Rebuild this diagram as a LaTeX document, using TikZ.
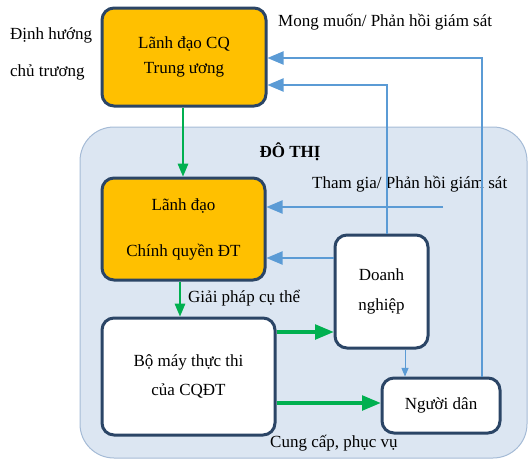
\documentclass[tikz,border=0pt]{standalone}
\usepackage{xcolor}
\usepackage{fontspec}
\setmainfont{Liberation Serif}
\usepackage{tikz}
\usetikzlibrary{arrows}
\definecolor{LeadOrange}{HTML}{FFC000}
\definecolor{BoxEdge}{HTML}{2B4566}
\definecolor{CityFill}{HTML}{DCE6F2}
\definecolor{CityEdge}{HTML}{A5BBD6}
\definecolor{FlowGreen}{HTML}{00B050}
\definecolor{FlowBlue}{HTML}{5B9BD5}
\tikzset{
  BaseNode/.style = {align=center, inner sep=4pt, text centered, font=\fontsize{17}{20}\selectfont},
  LeadNode/.style = {BaseNode, rectangle, rounded corners=12pt, fill=LeadOrange, draw=BoxEdge, line width=3pt},
  BodyNode/.style = {BaseNode, rectangle, rounded corners=12pt, fill=white, draw=BoxEdge, line width=3pt},
  CityNode/.style = {rectangle, rounded corners=34pt, fill=CityFill, draw=CityEdge, line width=1pt},
  NoteNode/.style = {BaseNode, anchor=west, inner sep=0pt},
  GreenArrow/.style = {->, draw=FlowGreen, line width=3.4pt},
  ThinGreen/.style = {->, draw=FlowGreen, line width=2pt},
  BlueArrow/.style = {->, draw=FlowBlue, line width=2.8pt},
  ThinArrow/.style = {->, draw=FlowBlue, line width=1pt},
}

\begin{document}
\begin{tikzpicture}[x=1pt, y=-1pt, >=triangle 45]
    \useasboundingbox (0,0) rectangle (530,463);
    \node [CityNode, minimum width=447pt, minimum height=331pt] (city) at (303.5,292.5) {};
    \node [BaseNode, font=\fontsize{17}{20}\selectfont\bfseries] (cityTitle) at (290,152) {ĐÔ THỊ};

    \node [LeadNode, minimum width=164pt, minimum height=98pt] (central) at (184,57) {Lãnh đạo CQ\\[5pt]Trung ương};
    \node [LeadNode, minimum width=163pt, minimum height=102pt] (leader) at (183.5,229) {Lãnh đạo\\[26pt]Chính quyền ĐT};
    \node [BodyNode, minimum width=173pt, minimum height=117pt] (exec) at (188.5,376.5) {Bộ máy thực thi\\[9pt]của CQĐT};
    \node [BodyNode, minimum width=93pt, minimum height=113pt] (business) at (381.5,291.5) {Doanh\\[10pt]nghiệp};
    \node [BodyNode, minimum width=118pt, minimum height=55pt] (people) at (441,405.5) {Người dân};

    \node [NoteNode] (guide1) at (10,35) {Định hướng};
    \node [NoteNode] (guide2) at (10,72) {chủ trương};
    \node [NoteNode] (wish) at (278,22) {Mong muốn/ Phản hồi giám sát};
    \node [NoteNode] (join) at (312,184) {Tham gia/ Phản hồi giám sát};
    \node [NoteNode] (solution) at (188,298) {Giải pháp cụ thể};
    \node [NoteNode] (serve) at (270,443) {Cung cấp, phục vụ};
    \coordinate (joinStart) at (443,207);

    \draw [ThinGreen] (central.south -| 183,0) -- (leader.north -| 183,0);
    \draw [ThinGreen] (leader.south -| 180,0) -- (exec.north -| 180,0);
    \draw [GreenArrow] (exec.east |- 0,332) -- (business.west |- 0,332);
    \draw [GreenArrow] (exec.east |- 0,403) -- (people.west |- 0,403);

    \draw [BlueArrow] (people.north -| 482,0) |- (central.east |- 0,58);
    \draw [BlueArrow] (business.north -| 387,0) |- (central.east |- 0,85);
    \draw [BlueArrow] (joinStart) -- (leader.east |- joinStart);
    \draw [BlueArrow] (business.west |- 0,258) -- (leader.east |- 0,258);
    \draw [ThinArrow] (business.south -| 405,0) -- (people.north -| 405,0);
\end{tikzpicture}
\end{document}
